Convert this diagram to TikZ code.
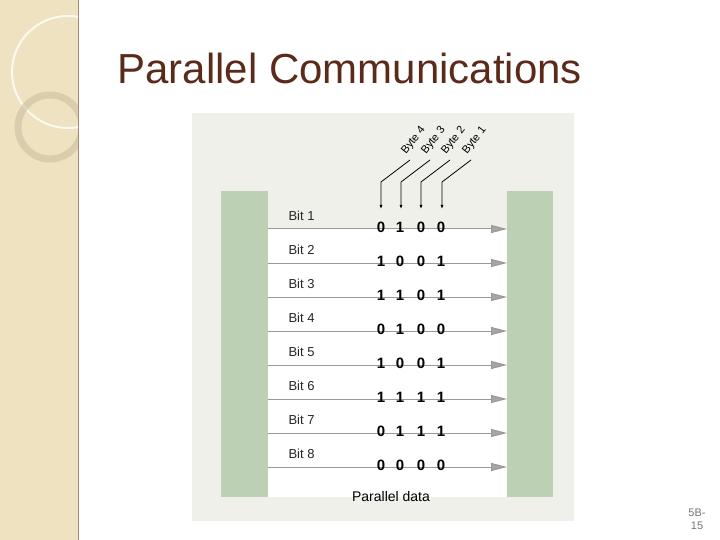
\documentclass[tikz,border=0pt]{standalone}
\usepackage{fontspec}
\setmainfont{Liberation Sans}
\usetikzlibrary{arrows.meta}
\definecolor{beige}{HTML}{EFE2C0}
\definecolor{panel}{HTML}{F0F0EB}
\definecolor{bar}{HTML}{BCD0B4}
\definecolor{titlec}{HTML}{5A2A1A}
\begin{document}
\begin{tikzpicture}[x=1pt,y=-1pt,
  bitlbl/.style={anchor=west,font=\fontsize{13}{13}\selectfont,text=black!85},
  digit/.style={font=\bfseries\fontsize{15}{15}\selectfont},
  wire/.style={draw=black!40,line width=1pt,-{Triangle[length=16pt,width=8pt,fill=black!35]}},
  bytelbl/.style={rotate=52,anchor=south west,font=\fontsize{11}{11}\selectfont,inner sep=0.5pt},
  feed/.style={-{Latex[length=4pt,width=3pt]},line width=0.8pt}]
\useasboundingbox (0,0) rectangle (720,540);
\fill[white] (0,0) rectangle (720,540);
\fill[beige] (0,0) rectangle (78,540);
\draw[brown!50!black!60,line width=1pt] (78,0) -- (78,540);
\begin{scope}
\clip (0,0) rectangle (78,540);
\draw[white!80!beige,line width=2pt] (68,72) circle (56);
\draw[beige!85!black,line width=7pt,opacity=0.6] (50,127) circle (32);
\end{scope}
\node[anchor=west,text=titlec,font=\fontsize{42}{42}\selectfont] (title) at (114,68) {Parallel Communications};
\node[align=center,text=black!55,font=\fontsize{11}{13}\selectfont] (page) at (697,519) {5B-\\15};
\fill[panel] (192,113) rectangle (574,521);
\fill[white] (268,229) rectangle (507,497);
\node[fill=bar,minimum width=47pt,minimum height=306pt,inner sep=0] (lb) at (244.5,344) {};
\node[fill=bar,minimum width=46pt,minimum height=306pt,inner sep=0] (rb) at (530,344) {};
\foreach \i/\a/\b/\c/\d in {1/0/1/0/0,2/1/0/0/1,3/1/1/0/1,4/0/1/0/0,5/1/0/0/1,6/1/1/1/1,7/0/1/1/1,8/0/0/0/0}{
  \pgfmathsetmacro\yy{229+34*(\i-1)}
  \coordinate (s\i) at (268,\yy);
  \coordinate (e\i) at (507,\yy);
  \draw[wire] (s\i) -- (e\i);
  \node[bitlbl] (bl\i) at (285,\yy-13) {Bit \i};
  \node[digit] (d\i a) at (381,\yy-2) {\a};
  \node[digit] (d\i b) at (400,\yy-2) {\b};
  \node[digit] (d\i c) at (421,\yy-2) {\c};
  \node[digit] (d\i d) at (441,\yy-2) {\d};
}
\node[font=\fontsize{14}{14}\selectfont] (pd) at (391,496) {Parallel data};
\foreach \n/\x in {4/381,3/401,2/421,1/442}{
  \coordinate (t\n) at (\x+29,160);
  \coordinate (k\n) at (\x,182);
  \draw[feed] (t\n) -- (k\n) -- (\x,209);
  \node[bytelbl] (by\n) at (\x+27,157) {Byte \n};
}
\end{tikzpicture}
\end{document}
